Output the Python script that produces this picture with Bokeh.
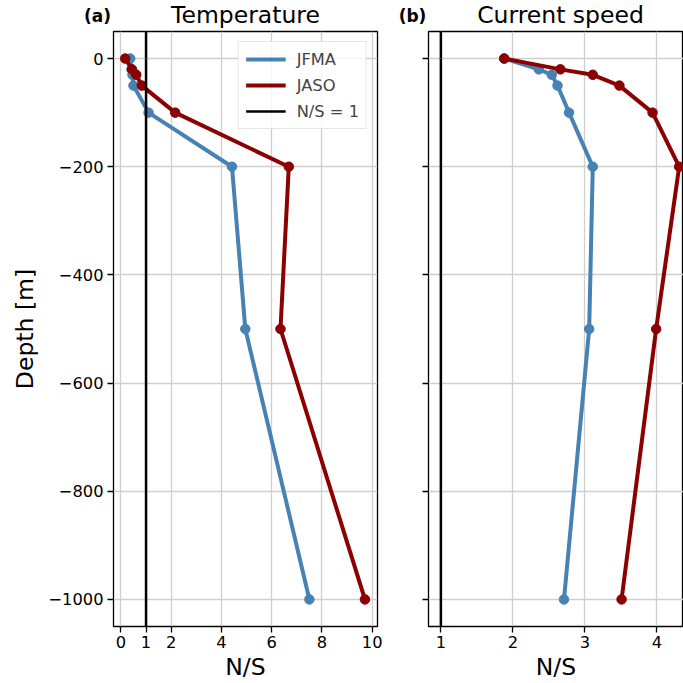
import math
from bokeh.plotting import figure
from bokeh.models import Label, Legend, LegendItem, FixedTicker, Range1d
from bokeh.layouts import row, column
from bokeh.embed import file_html
from bokeh.resources import INLINE

# ---- data ----
depth = [0, -20, -30, -50, -100, -200, -500, -1000]
temp_jfma = [0.37, 0.42, 0.46, 0.50, 1.10, 4.42, 4.95, 7.50]
temp_jaso = [0.17, 0.44, 0.61, 0.83, 2.16, 6.68, 6.35, 9.71]
speed_jfma = [1.88, 2.36, 2.54, 2.62, 2.78, 3.11, 3.06, 2.71]
speed_jaso = [1.88, 2.66, 3.11, 3.48, 3.94, 4.31, 3.99, 3.51]
ns_threshold = 1
y_ticks = [0, -200, -400, -600, -800, -1000]
x_ticks_temp = [0, 1, 2, 4, 6, 8, 10]
x_ticks_speed = [1, 2, 3, 4]
series_labels = ["JFMA", "JASO", "N/S = 1"]
panel_titles = ["Temperature", "Current speed"]
panel_tags = ["(a)", "(b)"]

BLUE = "#4682B4"
RED = "#8B0000"
FONT = "DejaVu Sans"
HEADER_H = 29


def style(p, xticks, show_ylabels):
    p.xaxis.ticker = FixedTicker(ticks=xticks)
    p.yaxis.ticker = FixedTicker(ticks=y_ticks)
    if show_ylabels:
        p.yaxis.major_label_overrides = {t: str(t).replace("-", "\u2212") for t in y_ticks}
    else:
        p.yaxis.major_label_overrides = {t: "" for t in y_ticks}
    for ax in (p.xaxis[0], p.yaxis[0]):
        ax.axis_line_color = None
        ax.major_tick_in = 0
        ax.major_tick_out = 6
        ax.major_tick_line_width = 1.3
        ax.major_tick_line_color = "black"
        ax.minor_tick_line_color = None
        ax.major_label_text_font = FONT
        ax.major_label_text_font_size = "16.3px"
        ax.major_label_text_color = "black"
        ax.axis_label_text_font = FONT
        ax.axis_label_text_font_size = "23.5px"
        ax.axis_label_text_font_style = "normal"
        ax.axis_label_text_color = "black"
    p.xaxis.axis_label = "N/S"
    p.xaxis.major_label_standoff = 3
    p.xaxis.axis_label_standoff = 2
    if show_ylabels:
        p.yaxis.axis_label = "Depth [m]"
        p.yaxis.major_label_standoff = 4
        p.yaxis.axis_label_standoff = 6
    else:
        p.yaxis.major_label_standoff = 0
    p.grid.grid_line_color = "#cfcfcf"
    p.grid.grid_line_width = 1.3
    p.outline_line_color = "black"
    p.outline_line_width = 1.3
    p.outline_line_alpha = 1.0
    p.background_fill_color = "white"
    p.border_fill_color = "white"


# header strip carrying panel tags and titles (its frame fills the whole strip)
header = figure(title=None, width=683, height=HEADER_H, frame_width=683, frame_height=HEADER_H,
                x_range=Range1d(0, 683), y_range=Range1d(0, HEADER_H),
                x_axis_type=None, y_axis_type=None, output_backend="svg", toolbar_location=None,
                min_border=0, min_border_left=0, min_border_right=0,
                min_border_top=0, min_border_bottom=0)
header.outline_line_color = None
header.grid.visible = False
header.border_fill_color = "white"
header.background_fill_color = "white"

p1 = figure(width=387, height=683 - HEADER_H, x_range=Range1d(-0.295, 10.21), y_range=Range1d(-1050, 50),
            output_backend="svg", toolbar_location=None,
            min_border_left=113, min_border_right=10, min_border_top=31 - HEADER_H, min_border_bottom=0)
p2 = figure(width=296, height=683 - HEADER_H, x_range=Range1d(0.828, 4.37), y_range=p1.y_range,
            output_backend="svg", toolbar_location=None,
            min_border_left=41, min_border_right=0, min_border_top=31 - HEADER_H, min_border_bottom=0)

style(p1, x_ticks_temp, True)
style(p2, x_ticks_speed, False)

items = []
for p, xa, xb in ((p1, temp_jfma, temp_jaso), (p2, speed_jfma, speed_jaso)):
    la = p.line(xa, depth, line_color=BLUE, line_width=4)
    p.scatter(xa, depth, size=9.5, fill_color=BLUE, line_color=BLUE)
    lb = p.line(xb, depth, line_color=RED, line_width=4)
    p.scatter(xb, depth, size=9.5, fill_color=RED, line_color=RED)
    # vertical N/S = 1 reference line: two infinite rays from the threshold
    ln = p.ray(x=[ns_threshold, ns_threshold], y=[0, 0], length=0,
               angle=[math.pi / 2, -math.pi / 2], line_color="black", line_width=2.5)
    if p is p1:
        items = [LegendItem(label=series_labels[0], renderers=[la]),
                 LegendItem(label=series_labels[1], renderers=[lb]),
                 LegendItem(label=series_labels[2], renderers=[ln])]

legend = Legend(items=items, location="top_right", margin=10, padding=7, spacing=6,
                glyph_width=40, glyph_height=20, label_standoff=11,
                label_text_font=FONT, label_text_font_size="16.3px",
                border_line_color="#cccccc", border_line_width=1.3,
                background_fill_color="white", background_fill_alpha=0.8)
p1.add_layout(legend)

# titles and panel tags (vertically centred in the header strip)
for xpos, txt in ((245, panel_titles[0]), (560, panel_titles[1])):
    header.add_layout(Label(x=xpos, y=HEADER_H - 14, text=txt, text_align="center",
                            text_baseline="middle", text_font=FONT, text_font_size="23.5px",
                            text_color="black"))
for xpos, txt in ((97, panel_tags[0]), (412, panel_tags[1])):
    header.add_layout(Label(x=xpos, y=HEADER_H - 15, text=txt, text_align="center",
                            text_baseline="middle", text_font=FONT, text_font_size="17px",
                            text_font_style="bold", text_color="black"))

layout = column(header, row(p1, p2))
open("out.html", "w").write(file_html(layout, INLINE))
